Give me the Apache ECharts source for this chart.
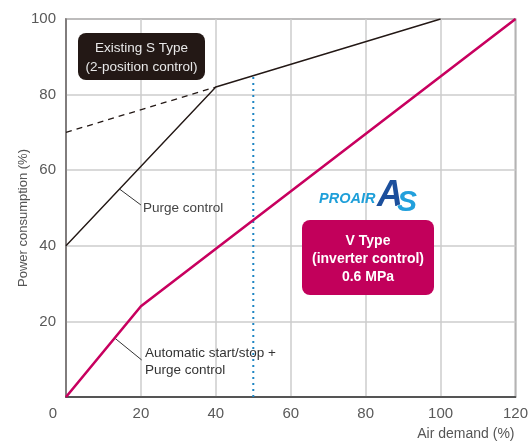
<!DOCTYPE html>
<html>
<head>
<meta charset="utf-8">
<script src="https://cdn.jsdelivr.net/npm/echarts@6/dist/echarts.min.js"></script>
<style>html,body{margin:0;padding:0;background:#fff;}#c{width:531px;height:443px;}</style>
</head>
<body>
<div id="c"></div>
<script>
// Data
var xTicks = [0, 20, 40, 60, 80, 100, 120];
var yTicks = [0, 20, 40, 60, 80, 100];
var existingS = [[0, 40], [40, 82], [100, 100]];
var existingDashed = [[0, 70], [40, 82]];
var vType = [[0, 0], [20, 24], [120, 100]];
var demand50 = [[50, 0], [50, 85]];
var purgeLeader = [[14.3, 55], [20, 50.8]];
var autoLeader = [[13, 15.6], [20.2, 9.8]];

var chart = echarts.init(document.getElementById('c'));
var font = 'Liberation Sans, Arial, Helvetica, sans-serif';
var option = {
  animation: false,
  grid: {left: 66, right: 11, top: 19, bottom: 46, show: true, borderColor: '#6e6868', borderWidth: 1.5},
  xAxis: {
    type: 'value', min: 0, max: 120, interval: 20,
    name: 'Air demand (%)', nameLocation: 'end', nameMoveOverlap: false,
    nameTextStyle: {color: '#555', fontSize: 14, fontFamily: font, align: 'right', verticalAlign: 'top', padding: [30, 0, 0, 0]},
    nameGap: -1,
    axisLine: {show: true, lineStyle: {color: '#333', width: 1.5}},
    axisTick: {show: false},
    axisLabel: {color: '#595959', fontSize: 15, fontFamily: font, margin: 9,
      formatter: function (v) { return v === 0 ? '{o|0}' : String(v); },
      rich: {o: {padding: [0, 26, 0, 0], fontSize: 15, color: '#595959', fontFamily: font}}},
    splitLine: {show: true, lineStyle: {color: '#cccccc', width: 1.5}}
  },
  yAxis: {
    type: 'value', min: 0, max: 100, interval: 20,
    name: 'Power consumption (%)', nameLocation: 'middle', nameGap: 36, nameRotate: 90, nameMoveOverlap: false,
    nameTextStyle: {color: '#555', fontSize: 13, fontFamily: font, padding: [0, 0, 0, -20]},
    axisLine: {show: true, lineStyle: {color: '#6e6868', width: 1.5}},
    axisTick: {show: false},
    axisLabel: {color: '#595959', fontSize: 15, fontFamily: font, margin: 10,
      formatter: function (v) { return v === 0 ? '' : String(v); }},
    splitLine: {show: true, lineStyle: {color: '#cccccc', width: 1.5}}
  },
  series: [
    {type: 'line', data: demand50, symbol: 'none', lineStyle: {color: '#1f86c4', width: 2, type: [2, 4]}, z: 2},
    {type: 'line', data: existingDashed, symbol: 'none', lineStyle: {color: '#231815', width: 1.3, type: [6, 5]}, z: 3},
    {type: 'line', data: existingS, symbol: 'none', lineStyle: {color: '#231815', width: 1.4}, z: 3},
    {type: 'line', data: vType, symbol: 'none', lineStyle: {color: '#c8005f', width: 2.6}, z: 4},
    {type: 'line', data: purgeLeader, symbol: 'none', lineStyle: {color: '#333', width: 1}, z: 3},
    {type: 'line', data: autoLeader, symbol: 'none', lineStyle: {color: '#333', width: 1}, z: 3}
  ],
  graphic: [
    {type: 'rect', shape: {x: 78, y: 33, width: 127, height: 47, r: 8}, style: {fill: '#231815'}, z: 10},
    {type: 'text', x: 141.5, y: 48, style: {text: 'Existing S Type', fill: '#e8e8e8', font: '13.5px ' + font, align: 'center', verticalAlign: 'middle'}, z: 11},
    {type: 'text', x: 141.5, y: 67, style: {text: '(2-position control)', fill: '#e8e8e8', font: '13.5px ' + font, align: 'center', verticalAlign: 'middle'}, z: 11},
    {type: 'text', x: 143, y: 208, style: {text: 'Purge control', fill: '#444', font: '13.5px ' + font, align: 'left', verticalAlign: 'middle'}, z: 11},
    {type: 'text', x: 145, y: 353, style: {text: 'Automatic start/stop +', fill: '#333', font: '13.5px ' + font, align: 'left', verticalAlign: 'middle'}, z: 11},
    {type: 'text', x: 145, y: 370, style: {text: 'Purge control', fill: '#333', font: '13.5px ' + font, align: 'left', verticalAlign: 'middle'}, z: 11},
    {type: 'rect', shape: {x: 302, y: 220, width: 132, height: 75, r: 8}, style: {fill: '#c2005b'}, z: 10},
    {type: 'text', x: 368, y: 241, style: {text: 'V Type', fill: '#fff', font: 'bold 14px ' + font, align: 'center', verticalAlign: 'middle'}, z: 11},
    {type: 'text', x: 368, y: 259, style: {text: '(inverter control)', fill: '#fff', font: 'bold 14px ' + font, align: 'center', verticalAlign: 'middle'}, z: 11},
    {type: 'text', x: 368, y: 277, style: {text: '0.6 MPa', fill: '#fff', font: 'bold 14px ' + font, align: 'center', verticalAlign: 'middle'}, z: 11},
    {type: 'text', x: 319, y: 199, style: {text: 'PROAIR', fill: '#1e9fd9', font: 'italic bold 14.5px ' + font, align: 'left', verticalAlign: 'middle'}, z: 11},
    {type: 'text', x: 377, y: 196, style: {text: 'A', fill: '#1c4f9c', font: 'italic 900 36px ' + font, align: 'left', verticalAlign: 'middle'}, z: 11},
    {type: 'text', x: 397, y: 203, style: {text: 'S', fill: '#22a0dc', font: 'italic 900 30px ' + font, align: 'left', verticalAlign: 'middle', stroke: '#fff', lineWidth: 1}, z: 12}
  ]
};
chart.setOption(option);
</script>
</body>
</html>
